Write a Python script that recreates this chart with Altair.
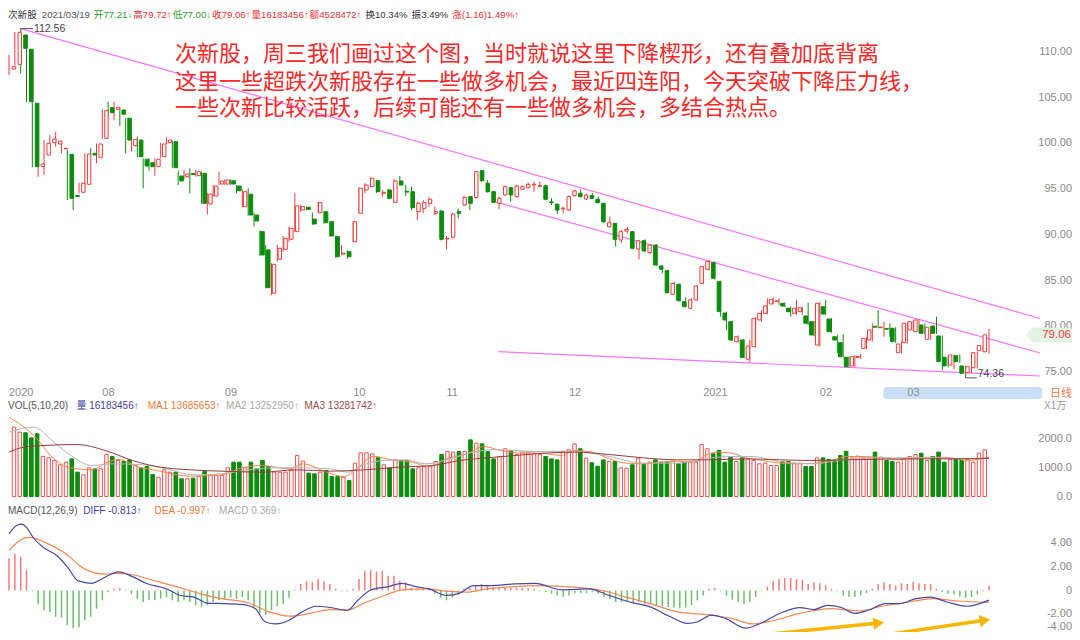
import altair as alt
import pandas as pd

# ---------------- data ----------------
OPEN = [108.14,108.65,111.86,110.30,104.39,97.46,98.73,100.08,99.94,99.40,
        98.81,94.30,94.66,95.53,98.92,98.48,100.56,103.91,103.73,103.66,
        102.75,99.75,100.37,98.26,97.89,97.46,98.55,100.08,100.19,96.44,
        96.36,96.70,96.47,96.73,93.38,94.25,95.56,95.56,95.92,95.34,
        93.08,94.44,92.17,90.35,88.35,83.61,87.33,88.42,89.51,90.35,
        92.72,93.01,91.73,92.42,92.53,91.44,89.80,87.90,88.16,89.25,
        92.36,94.91,95.27,95.92,94.55,94.91,93.56,95.89,94.76,94.72,
        92.53,92.90,93.45,92.36,92.61,89.55,89.73,92.53,93.27,94.18,
        94.07,97.02,95.64,94.72,93.45,94.36,95.16,94.17,94.98,95.16,
        95.45,95.30,95.38,93.60,93.34,92.85,92.72,94.29,94.55,93.92,
        94.29,93.89,93.45,90.89,91.26,89.44,90.42,90.35,88.45,89.36,
        88.05,88.89,86.59,86.08,83.50,84.59,82.69,81.97,82.88,84.70,
        86.23,86.96,84.88,81.45,80.50,78.32,78.50,76.39,77.77,80.69,
        81.42,82.44,82.70,82.51,81.97,81.42,81.60,81.13,80.50,77.95,
        82.14,80.80,78.86,78.21,76.61,75.66,76.60,77.59,78.50,80.00,
        79.85,79.75,79.78,77.11,78.21,79.60,79.41,80.14,78.58,80.03,
        78.94,76.61,75.77,76.78,75.66,74.94,75.47,77.33,77.21]
HIGH = [109.67,112.20,112.56,110.40,104.50,98.73,100.37,100.92,101.28,100.19,
        99.28,94.91,95.70,98.92,99.50,100.01,103.73,104.56,104.56,103.95,
        102.80,100.74,100.74,98.37,98.37,98.37,100.08,100.67,100.30,97.02,
        97.09,97.28,97.09,96.90,94.61,95.45,96.91,96.08,96.08,95.45,
        94.98,95.09,92.42,90.50,88.89,86.89,88.89,89.88,90.89,94.55,
        93.27,93.10,92.42,93.63,92.60,91.50,89.90,88.89,88.30,91.50,
        95.20,95.64,96.30,96.00,94.91,95.00,96.08,96.44,95.45,95.27,
        93.63,93.81,94.11,93.08,92.70,89.88,92.40,92.90,94.25,94.25,
        97.00,97.09,96.00,94.80,94.18,95.40,95.27,95.45,95.40,95.70,
        95.82,95.82,95.50,94.00,93.45,93.08,94.30,94.90,94.98,94.50,
        94.61,94.18,93.50,91.99,91.30,90.53,90.89,90.40,89.44,89.50,
        89.00,89.00,86.70,86.20,84.88,84.70,83.17,83.06,84.50,86.60,
        87.25,87.10,85.00,81.60,80.60,79.00,78.60,78.50,81.00,81.78,
        83.06,83.17,83.06,82.60,82.14,82.88,82.14,82.58,80.60,82.69,
        82.88,80.90,79.05,79.12,76.70,76.86,77.00,78.80,80.33,81.78,
        80.50,80.33,79.90,78.32,80.40,80.60,80.80,80.30,80.00,81.05,
        79.00,76.70,76.90,76.90,75.70,75.70,77.20,78.00,79.72]
LOW = [107.48,108.50,107.67,104.50,97.40,96.36,96.55,99.50,99.64,98.92,
       93.81,92.72,94.55,95.27,98.55,97.83,100.50,102.92,102.56,101.91,
       98.92,99.10,98.48,95.09,97.02,96.47,98.37,99.94,97.30,95.45,
       96.08,94.55,96.36,93.40,92.25,94.17,95.45,95.45,95.45,94.55,
       93.01,92.10,90.89,87.70,84.15,83.42,87.07,88.16,89.25,90.30,
       92.54,92.70,91.08,92.36,91.20,89.80,87.50,87.80,87.40,89.20,
       92.30,94.55,95.20,94.60,94.17,93.90,93.45,95.40,94.25,92.72,
       91.63,92.36,93.08,92.17,89.40,88.42,89.60,91.80,93.16,92.72,
       94.00,95.82,94.62,93.50,92.80,94.30,93.63,94.10,94.90,95.10,
       94.72,95.20,93.80,93.27,92.28,92.36,92.60,94.20,94.10,93.80,
       93.92,93.45,91.30,90.78,88.71,89.14,90.17,88.40,87.33,88.10,
       87.90,86.60,85.83,83.60,83.42,82.70,82.08,81.86,82.80,84.60,
       86.08,85.10,81.05,79.60,78.40,78.20,76.50,76.02,77.70,80.50,
       81.30,82.40,82.33,82.10,81.05,81.24,81.24,80.14,78.90,77.77,
       81.24,79.30,77.05,76.60,75.50,75.51,76.40,77.50,78.32,79.78,
       78.86,78.86,78.20,77.05,78.10,79.50,79.30,79.10,78.50,79.16,
       75.22,75.50,75.30,76.00,74.36,74.86,75.40,77.20,77.00]
CLOSE = [108.39,112.15,110.40,104.56,97.46,97.75,100.01,100.48,100.27,99.47,
         94.00,94.20,95.64,98.84,98.73,99.94,103.58,103.36,103.95,103.19,
         100.37,100.45,98.55,97.53,97.46,98.26,99.94,100.37,97.35,95.89,
         96.66,96.60,96.91,93.45,94.47,95.34,95.89,96.00,95.56,94.83,
         94.72,92.17,91.52,87.80,84.22,86.78,88.53,89.62,90.72,93.16,
         93.08,92.80,91.19,93.52,91.33,89.88,87.61,88.00,87.61,91.44,
         95.09,95.45,96.19,94.72,94.65,94.00,95.89,95.45,94.68,92.97,
         93.45,93.52,93.89,92.53,89.51,89.62,92.28,92.36,94.11,93.45,
         96.91,95.92,94.72,93.56,94.00,95.27,94.36,95.34,95.27,95.53,
         95.53,95.38,93.89,93.52,92.72,92.92,94.18,94.80,94.18,94.36,
         94.00,93.52,91.44,91.33,89.51,90.35,90.61,88.53,89.36,88.24,
         88.89,86.70,86.23,83.67,84.70,82.80,82.14,82.88,84.41,86.52,
         87.07,85.25,81.60,80.69,78.50,78.86,76.61,77.84,80.87,81.42,
         82.22,82.95,82.78,82.22,81.60,81.97,82.03,80.33,79.05,82.51,
         81.34,79.41,78.50,76.67,75.58,76.67,76.70,78.68,79.60,79.90,
         79.92,79.68,78.32,78.06,80.33,80.50,80.69,79.23,79.89,79.23,
         76.13,75.66,76.86,76.13,74.86,75.58,77.11,77.90,79.06]
# volume, unit: 10k shares
VOLUME = [2405,2231,2210,2035,2175,1390,1341,1250,1100,1190,
          1305,845,750,995,960,960,1455,1390,1250,1225,
          1270,1075,995,1040,763,670,925,845,845,613,
          613,636,694,867,728,728,728,995,1190,1190,
          995,1190,960,1250,1040,845,845,845,925,1420,
          1225,810,786,845,900,694,694,670,555,1156,
          1515,1515,1480,1365,1100,995,1270,1250,1250,960,
          995,1040,1040,1215,1455,1560,1540,1560,1560,1965,
          1850,1825,1560,1305,1390,1655,1595,1455,1540,1540,
          1500,1450,1390,1305,1270,1570,1620,1825,1655,1330,
          1170,1050,1270,1215,1215,995,980,1100,1330,1135,
          1190,1270,1190,1190,1225,1135,1190,1190,1190,1805,
          1655,1480,1595,1190,1365,1215,1340,1305,1250,1135,
          1155,1075,1075,1215,1215,1155,1155,1040,1040,1340,
          1340,1285,1250,1420,1570,1340,1400,1340,1340,1540,
          1365,1250,1215,1190,1305,1390,1455,1500,1250,1390,
          1540,1190,1285,1305,1250,1285,1190,1500,1618]
MACD_HIST = [2.72,3.11,2.86,1.75,-0.05,-1.11,-1.67,-1.81,-2.22,-2.28,
             -2.92,-3.19,-3.11,-2.5,-2.22,-1.53,-0.83,-0.14,0.14,0.22,
             0.06,-0.28,-0.69,-0.97,-0.83,-0.83,-0.69,-0.56,-0.83,-0.97,
             -0.83,-0.97,-1.25,-1.39,-1.25,-0.97,-0.83,-0.69,-0.56,-0.69,
             -0.56,-0.83,-1.39,-1.94,-2.08,-1.67,-1.33,-1.11,-0.61,0.06,
             0.56,0.78,0.69,0.97,0.78,0.56,0.14,-0.06,-0.06,0.14,
             0.97,1.67,1.72,1.61,1.67,1.25,1.25,0.83,0.69,0.22,
             0.14,0.22,0.22,-0.28,-0.61,-0.83,-0.56,-0.33,0.14,0.22,
             0.42,0.56,0.42,0.28,0.22,0.22,0.22,0.22,0.22,0.22,
             0.14,-0.06,-0.14,-0.28,-0.42,-0.56,-0.42,-0.22,-0.22,-0.22,
             -0.14,-0.28,-0.56,-0.69,-0.97,-0.97,-0.89,-1.06,-0.97,-1.11,
             -1.11,-1.25,-1.33,-1.39,-1.44,-1.53,-1.44,-1.25,-0.83,-0.42,
             0.14,0.22,-0.06,-0.42,-0.78,-0.97,-1.11,-0.97,-0.56,-0.06,
             0.33,0.78,0.97,1.06,1.06,0.97,0.89,0.56,0.69,0.61,
             0.42,0.14,-0.06,-0.42,-0.56,-0.56,-0.42,-0.22,0.14,0.56,
             0.69,0.56,0.42,0.61,0.56,0.75,0.61,0.56,0.56,0.14,
             -0.14,-0.28,-0.33,-0.5,-0.61,-0.56,-0.33,-0.06,0.37]

MA5_I = [1,5.8,8.1,11.6,15.2,17.5,19.8,23.3,26.3,32.1,37.4,40.9,44.4,49.1,51.4,55.5,58.4,60.8,63.4,67.2,
         70.1,73.0,76.0,79.5,82.4,85.3,89.4,92.2,95.7,98.0,101.0,103.9,106.8,109.7,112.6,115.6,118.5,120.3,122.6,124.9,
         127.3,130.2,133.1,136.0,139.0,141.9,144.8,147.7,150.7,153.6,156.5,159.4,162.4,165.3,169]
MA5_V = [2751,2000,1422,994,925,1156,1283,1017,902,705,751,994,1075,960,1133,844,694,994,1387,1249,
         1191,1040,1306,1480,1734,1595,1503,1503,1422,1595,1538,1306,1156,1133,1191,1225,1191,1422,1538,1503,
         1341,1249,1156,1133,1156,1249,1387,1387,1341,1272,1341,1364,1341,1249,1369]
MA10_I = [1,5.2,8.7,11.6,15.2,18.7,23.3,28.0,32.7,37.4,42.1,46.7,51.4,56.1,59.0,61.9,65.4,69.0,72.5,76.0,
          80.6,84.2,87.7,91.2,98.0,103.9,109.7,115.6,121.4,124.9,128.4,133.1,139.0,142.5,147.7,153.6,159.4,165.3,169]
MA10_V = [2231,2405,1884,1422,1075,1133,1110,960,751,786,925,994,994,960,844,1110,1249,1272,1133,1272,
          1538,1630,1595,1561,1572,1387,1156,1156,1341,1387,1387,1214,1133,1225,1341,1341,1341,1306,1325]
MA20_I = [1,3.5,7.0,12.8,17.5,22.2,26.3,32.1,37.4,44.4,50.2,56.1,61.9,67.8,73.6,78.3,83.0,87.7,91.2,98.0,
          103.9,109.7,115.6,121.4,127.3,133.1,139.0,144.8,150.7,156.5,162.4,169]
MA20_V = [1538,1711,1769,1803,1595,1249,1040,925,879,844,925,879,925,1017,1075,1249,1341,1422,1480,1538,
          1457,1341,1272,1272,1306,1272,1249,1272,1295,1306,1306,1328]

DIFF_I = [1,2.3,3.2,4.1,5.2,7.0,9.3,11.1,12.8,15.2,16.9,19.8,22.2,24.5,28.0,30.4,32.7,35.0,37.9,40.9,
          43.2,44.9,46.7,49.1,50.8,53.7,56.1,59.0,60.8,63.1,66.0,68.4,70.7,73.0,76.0,78.3,80.6,83.6,87.7,91.2,
          95.7,100.4,103.9,107.4,110.9,114.4,117.3,119.1,121.4,123.8,127.3,129.6,133.1,136.6,139.0,141.3,143.7,146.0,148.3,151.3,
          153.6,156.5,158.9,161.8,165.3,169]
DIFF_V = [4.81,5.5,5.61,5.28,4.44,3.61,2.92,1.94,0.83,0.61,0.97,1.58,1.17,0.61,0.14,-0.42,-0.56,-1.06,-1.11,-1.17,
          -1.53,-2.64,-2.83,-2.5,-1.94,-1.33,-1.44,-1.67,-0.83,0.06,0.33,0.61,0.33,0.14,-0.42,-0.22,0.42,0.42,0.56,0.61,
          0.06,0.14,-0.42,-0.97,-1.39,-2.22,-2.78,-2.64,-2.08,-2.36,-3.19,-2.83,-1.94,-1.44,-1.61,-1.25,-1.44,-1.94,-1.67,-1.11,
          -1.11,-0.69,-0.56,-0.97,-1.33,-0.813]
DEA_I = [1,3.4,4.6,7.0,10.5,14.0,17.5,19.8,22.2,26.3,30.4,33.9,37.4,42.1,45.6,49.1,52.6,56.1,59.0,61.9,
         65.4,68.4,72.5,76.0,79.5,83.0,87.7,91.2,98.0,102.7,106.8,110.9,115.6,121.4,124.9,128.4,131.9,136.6,141.9,146.6,
         150.7,155.3,159.4,163.5,169]
DEA_V = [3.39,4.39,4.5,4.11,3.19,1.81,1.39,1.44,1.33,0.78,0.22,-0.28,-0.69,-1.06,-1.81,-2.17,-1.94,-1.61,-1.67,-1.06,
         -0.42,0.06,0.14,-0.06,-0.14,0.14,0.33,0.42,0.28,0.0,-0.56,-1.11,-1.81,-2.08,-2.36,-2.83,-2.56,-1.94,-1.53,-1.72,
         -1.33,-0.97,-0.69,-0.89,-0.997]

# hand-drawn trend lines (candle index, price)
TREND_I = [[3, 177.75], [84.25, 177.75], [84.93, 177.75]]
TREND_P = [[112.56, 80.85], [93.63, 77.08], [77.23, 74.56]]

DATE_TICK_IDX = [1, 17, 38, 60, 76, 97, 120, 140, 155]
DATE_TICK_LABEL = ["2020", "08", "09", "10", "11", "12", "2021", "02", "03"]
PRICE_TICKS = [110, 105, 100, 95, 90, 85, 80, 75]
VOL_TICKS = [2000, 1000, 0]
MACD_TICKS = [4, 2, 0, -2, -4]
MACD_TICK_LABELS = ["4.00", "2.00", "0", "-2.00", "-4.00"]

HIGH_MARK = (3, 112.56)
LOW_MARK = (165, 74.36)
LAST_CLOSE = 79.06

NOTE_LINES = ["次新股，周三我们画过这个图，当时就说这里下降楔形，还有叠加底背离",
              "这里一些超跌次新股存在一些做多机会，最近四连阳，今天突破下降压力线，",
              "一些次新比较活跃，后续可能还有一些做多机会，多结合热点。"]
HEADER = [("次新股", "#333333"), ("2021/03/19", "#555555"), ("开77.21↓", "#2a9a2a"),
          ("高79.72↑", "#f03030"), ("低77.00↓", "#2a9a2a"), ("收79.06↑", "#f03030"),
          ("量16183456↑", "#f03030"), ("额4528472↑", "#f03030"), ("换10.34%", "#333333"),
          ("振3.49%", "#333333"), ("涨(1.16)1.49%↑", "#f03030")]
VOL_HEADER = [("VOL(5,10,20)", "#555555"), ("量 16183456↑", "#3f3fa0"), ("MA1 13685653↑", "#f07838"),
              ("MA2 13252950↑", "#aaaaaa"), ("MA3 13281742↑", "#a04848")]
MACD_HEADER = [("MACD(12,26,9)", "#555555"), ("DIFF -0.813↑", "#4040a8"),
               ("DEA -0.997↑", "#f07838"), ("MACD 0.369↑", "#aaaaaa")]
ARROWS_I = [[125.9, 151.3], [146.1, 169.5]]
ARROWS_M = [[-3.96, -2.69], [-4.12, -2.43]]

# ---------------- style / layout ----------------
W, H = 1064, 624
RED = "#f03a3a"
GREEN = "#0c8c0c"
PINK = "#ff70ff"
GRAY = "#8a8a8a"
LATIN = "Liberation Sans, Noto Sans CJK SC"
CJK = "Noto Sans CJK SC"
OFF = 8  # page margin: chart pixel = page pixel - 8

step = 980 / 168.0
X0 = 1 - 1 / step
X1 = 169 + (W - 981) / step
XS = alt.Scale(domain=[X0, X1], nice=False, zero=False)
PS = alt.Scale(domain=[75, 110], range=[364, 44], nice=False, zero=False)
VS = alt.Scale(domain=[0, 2000], range=[488.5, 430.84], nice=False, zero=False)
MS = alt.Scale(domain=[-4, 4], range=[629.8, 535.2], nice=False, zero=False)

N = len(CLOSE)
cdf = pd.DataFrame({"i": range(1, N + 1), "o": OPEN, "h": HIGH, "l": LOW, "c": CLOSE,
                    "v": VOLUME, "m": MACD_HIST})
cdf["up"] = cdf["c"] >= cdf["o"]
cdf["col"] = cdf["up"].map({True: RED, False: GREEN})
cdf["mcol"] = (cdf["m"] >= 0).map({True: "#f37a7a", False: "#6cbd6c"})
cdf["zero"] = 0.0
up = cdf[cdf["up"]]
dn = cdf[~cdf["up"]]

X = alt.X("i:Q", scale=XS, axis=None)


def text_width(s, f):
    w = 0.0
    for ch in s:
        if ord(ch) >= 0x2E80:
            w += 1.0
        elif ch.isdigit():
            w += 0.556
        elif ch in "./,: ":
            w += 0.278
        elif ch in "()-":
            w += 0.333
        elif ch == "%":
            w += 0.889
        elif ch in "↑↓":
            w += 0.5
        elif ch.isupper():
            w += 0.68
        else:
            w += 0.5
    return w * f


def flow(segments, x0, gaps, f):
    xs, x = [], x0
    for k, (t, _) in enumerate(segments):
        xs.append(x)
        x += text_width(t, f) + (gaps[k] if k < len(gaps) else 0)
    return xs


def px_text(rows, align="left", font=LATIN, size=10, baseline="middle"):
    df = pd.DataFrame(rows, columns=["x", "y", "text", "color"])
    df["x"] = df["x"] - OFF
    df["y"] = df["y"] - OFF
    return alt.Chart(df).mark_text(align=align, baseline=baseline, font=font, fontSize=size).encode(
        x=alt.X("x:Q", scale=None), y=alt.Y("y:Q", scale=None),
        text="text:N", color=alt.Color("color:N", scale=None))


layers = []

# scrollbar-like highlight behind "03"
sb = pd.DataFrame({"a": [150.9], "b": [178.1]})
layers.append(alt.Chart(sb).mark_rect(color="#cadff6", cornerRadius=3).encode(
    x=alt.X("a:Q", scale=XS, axis=None), x2="b:Q", y=alt.value(387 - OFF), y2=alt.value(399 - OFF)))

# date labels
ddf = pd.DataFrame({"i": DATE_TICK_IDX, "t": DATE_TICK_LABEL})
layers.append(alt.Chart(ddf).mark_text(align="left", baseline="middle", font=LATIN, fontSize=11,
                                       color="#8c8c8c").encode(
    x=X, y=alt.value(393 - OFF), text="t:N"))

# right price labels
pdf = pd.DataFrame({"p": PRICE_TICKS})
pdf["t"] = pdf["p"].map(lambda v: f"{v:.2f}")
layers.append(alt.Chart(pdf).mark_text(align="right", baseline="middle", font=LATIN, fontSize=11,
                                       color=GRAY).encode(
    x=alt.value(1072 - OFF), y=alt.Y("p:Q", scale=PS, axis=None), text="t:N"))

# trend lines
for ii, pp in zip(TREND_I, TREND_P):
    tdf = pd.DataFrame({"i": ii, "p": pp})
    layers.append(alt.Chart(tdf).mark_line(color=PINK, strokeWidth=1.2).encode(
        x=X, y=alt.Y("p:Q", scale=PS, axis=None)))

# candles
layers.append(alt.Chart(cdf).mark_rule(strokeWidth=1).encode(
    x=X, y=alt.Y("l:Q", scale=PS, axis=None), y2="h:Q", color=alt.Color("col:N", scale=None)))
layers.append(alt.Chart(up).mark_bar(width=3.4, fill="white", stroke=RED, strokeWidth=1).encode(
    x=X, y=alt.Y("o:Q", scale=PS, axis=None), y2="c:Q"))
layers.append(alt.Chart(dn).mark_bar(width=3.6, fill=GREEN, stroke=GREEN, strokeWidth=1).encode(
    x=X, y=alt.Y("o:Q", scale=PS, axis=None), y2="c:Q"))

# high / low markers
hm = pd.DataFrame({"i": [HIGH_MARK[0]], "i2": [HIGH_MARK[0] + 2.1], "p": [HIGH_MARK[1]],
                   "t": [f"{HIGH_MARK[1]:.2f}"]})
layers.append(alt.Chart(hm).mark_rule(color="#555555", strokeWidth=1).encode(
    x=X, x2="i2:Q", y=alt.Y("p:Q", scale=PS, axis=None)))
layers.append(alt.Chart(hm).mark_text(align="left", baseline="middle", dx=1, font=LATIN, fontSize=10.5,
                                      color="#444444").encode(
    x=alt.X("i2:Q", scale=XS, axis=None), y=alt.Y("p:Q", scale=PS, axis=None), text="t:N"))
lm = pd.DataFrame({"i": [LOW_MARK[0]], "i2": [LOW_MARK[0] + 1.9], "p": [LOW_MARK[1]],
                   "t": [f"{LOW_MARK[1]:.2f}"]})
layers.append(alt.Chart(lm).mark_rule(color="#555555", strokeWidth=1).encode(
    x=X, x2="i2:Q", y=alt.Y("p:Q", scale=PS, axis=None)))
layers.append(alt.Chart(lm).mark_text(align="left", baseline="middle", dx=1, dy=-4, font=LATIN,
                                      fontSize=10.5, color="#444444").encode(
    x=alt.X("i2:Q", scale=XS, axis=None), y=alt.Y("p:Q", scale=PS, axis=None), text="t:N"))

# last price tag
tag = pd.DataFrame({"p": [LAST_CLOSE], "t": [f"{LAST_CLOSE:.2f}"]})
layers.append(alt.Chart(tag).mark_point(
    shape="M -1 0 L -0.72 -0.3 L 1 -0.3 L 1 0.3 L -0.72 0.3 Z", size=2116, filled=True,
    fill="#e4f4e4", stroke="#cfe8cf", strokeWidth=0.5, opacity=1).encode(
    x=alt.value(1049 - OFF), y=alt.Y("p:Q", scale=PS, axis=None)))
layers.append(alt.Chart(tag).mark_text(align="right", baseline="middle", font=LATIN, fontSize=11.5,
                                       color="#f04040").encode(
    x=alt.value(1071 - OFF), y=alt.Y("p:Q", scale=PS, axis=None), text="t:N"))

# annotation
layers.append(px_text([(175, 54, NOTE_LINES[0], "#fa2828"),
                       (175, 81.5, NOTE_LINES[1], "#fa2828"),
                       (175, 108, NOTE_LINES[2], "#fa2828")], font=CJK, size=22))

# headers
HF = 9.6
hx = flow(HEADER, 8, [5, 4, 1, 1, 1, 1, 1, 4, 4, 4], HF)
layers.append(px_text([(x, 15, t, c) for x, (t, c) in zip(hx, HEADER)], size=HF))
VF = 10
vx = flow(VOL_HEADER, 8, [8, 9, 7, 7], VF)
layers.append(px_text([(x, 406, t, c) for x, (t, c) in zip(vx, VOL_HEADER)], size=VF))
mx = flow(MACD_HEADER, 8, [8, 8, 8], VF)
layers.append(px_text([(x, 511, t, c) for x, (t, c) in zip(mx, MACD_HEADER)], size=VF))
layers.append(px_text([(1050, 394, "日线", "#f07848")], font=CJK, size=11))
layers.append(px_text([(1044, 406, "X1万", "#9a9a9a")], size=10))

# volume panel
layers.append(alt.Chart(up).mark_bar(width=3.4, fill="white", stroke="#f05050", strokeWidth=1).encode(
    x=X, y=alt.Y("v:Q", scale=VS, axis=None), y2="zero:Q"))
layers.append(alt.Chart(dn).mark_bar(width=3.6, fill=GREEN, stroke=GREEN, strokeWidth=1).encode(
    x=X, y=alt.Y("v:Q", scale=VS, axis=None), y2="zero:Q"))
for ii, vv, colr in [(MA5_I, MA5_V, "#f5884a"), (MA10_I, MA10_V, "#b4b4b4"), (MA20_I, MA20_V, "#9a3a3a")]:
    mdf = pd.DataFrame({"i": ii, "v": vv})
    layers.append(alt.Chart(mdf).mark_line(color=colr, strokeWidth=1, interpolate="monotone").encode(
        x=X, y=alt.Y("v:Q", scale=VS, axis=None)))
vdf = pd.DataFrame({"v": VOL_TICKS})
vdf["t"] = vdf["v"].map(lambda v: f"{v:.1f}")
layers.append(alt.Chart(vdf).mark_text(align="right", baseline="middle", font=LATIN, fontSize=11,
                                       color=GRAY).encode(
    x=alt.value(1072 - OFF), y=alt.Y("v:Q", scale=VS, axis=None), text="t:N"))

# MACD panel
layers.append(alt.Chart(cdf).mark_rule(strokeWidth=1.5).encode(
    x=X, y=alt.Y("m:Q", scale=MS, axis=None), y2="zero:Q", color=alt.Color("mcol:N", scale=None)))
for ii, vv, colr in [(DEA_I, DEA_V, "#f5874f"), (DIFF_I, DIFF_V, "#4646a8")]:
    mdf = pd.DataFrame({"i": ii, "m": vv})
    layers.append(alt.Chart(mdf).mark_line(color=colr, strokeWidth=1.2, interpolate="monotone").encode(
        x=X, y=alt.Y("m:Q", scale=MS, axis=None)))
mtdf = pd.DataFrame({"m": MACD_TICKS, "t": MACD_TICK_LABELS})
mtdf["m2"] = mtdf["m"].clip(lower=-3.1)  # keep the lowest label inside the page
layers.append(alt.Chart(mtdf).mark_text(align="right", baseline="middle", font=LATIN, fontSize=11,
                                        color=GRAY).encode(
    x=alt.value(1072 - OFF), y=alt.Y("m2:Q", scale=MS, axis=None), text="t:N"))

# yellow arrows
for (ii, mm), ang in zip(zip(ARROWS_I, ARROWS_M), [354, 351]):
    adf = pd.DataFrame({"i": [ii[0]], "i2": [ii[1] - 1.2], "m": [mm[0]],
                        "m2": [mm[1] - (mm[1] - mm[0]) * 1.2 / (ii[1] - ii[0])]})
    layers.append(alt.Chart(adf).mark_rule(color="#f7b500", strokeWidth=3.5).encode(
        x=X, x2="i2:Q", y=alt.Y("m:Q", scale=MS, axis=None), y2="m2:Q"))
    layers.append(alt.Chart(adf).mark_point(shape="triangle-right", filled=True, size=150,
                                            color="#f7b500", opacity=1, angle=ang).encode(
        x=alt.X("i2:Q", scale=XS, axis=None), y=alt.Y("m2:Q", scale=MS, axis=None)))

chart = alt.layer(*layers).resolve_scale(x="independent", y="independent").properties(
    width=W, height=H, padding=0, autosize=alt.AutoSizeParams(type="none"),
    background="white").configure_view(stroke=None)

chart.save("out.html", embed_options={"renderer": "svg", "actions": False})
